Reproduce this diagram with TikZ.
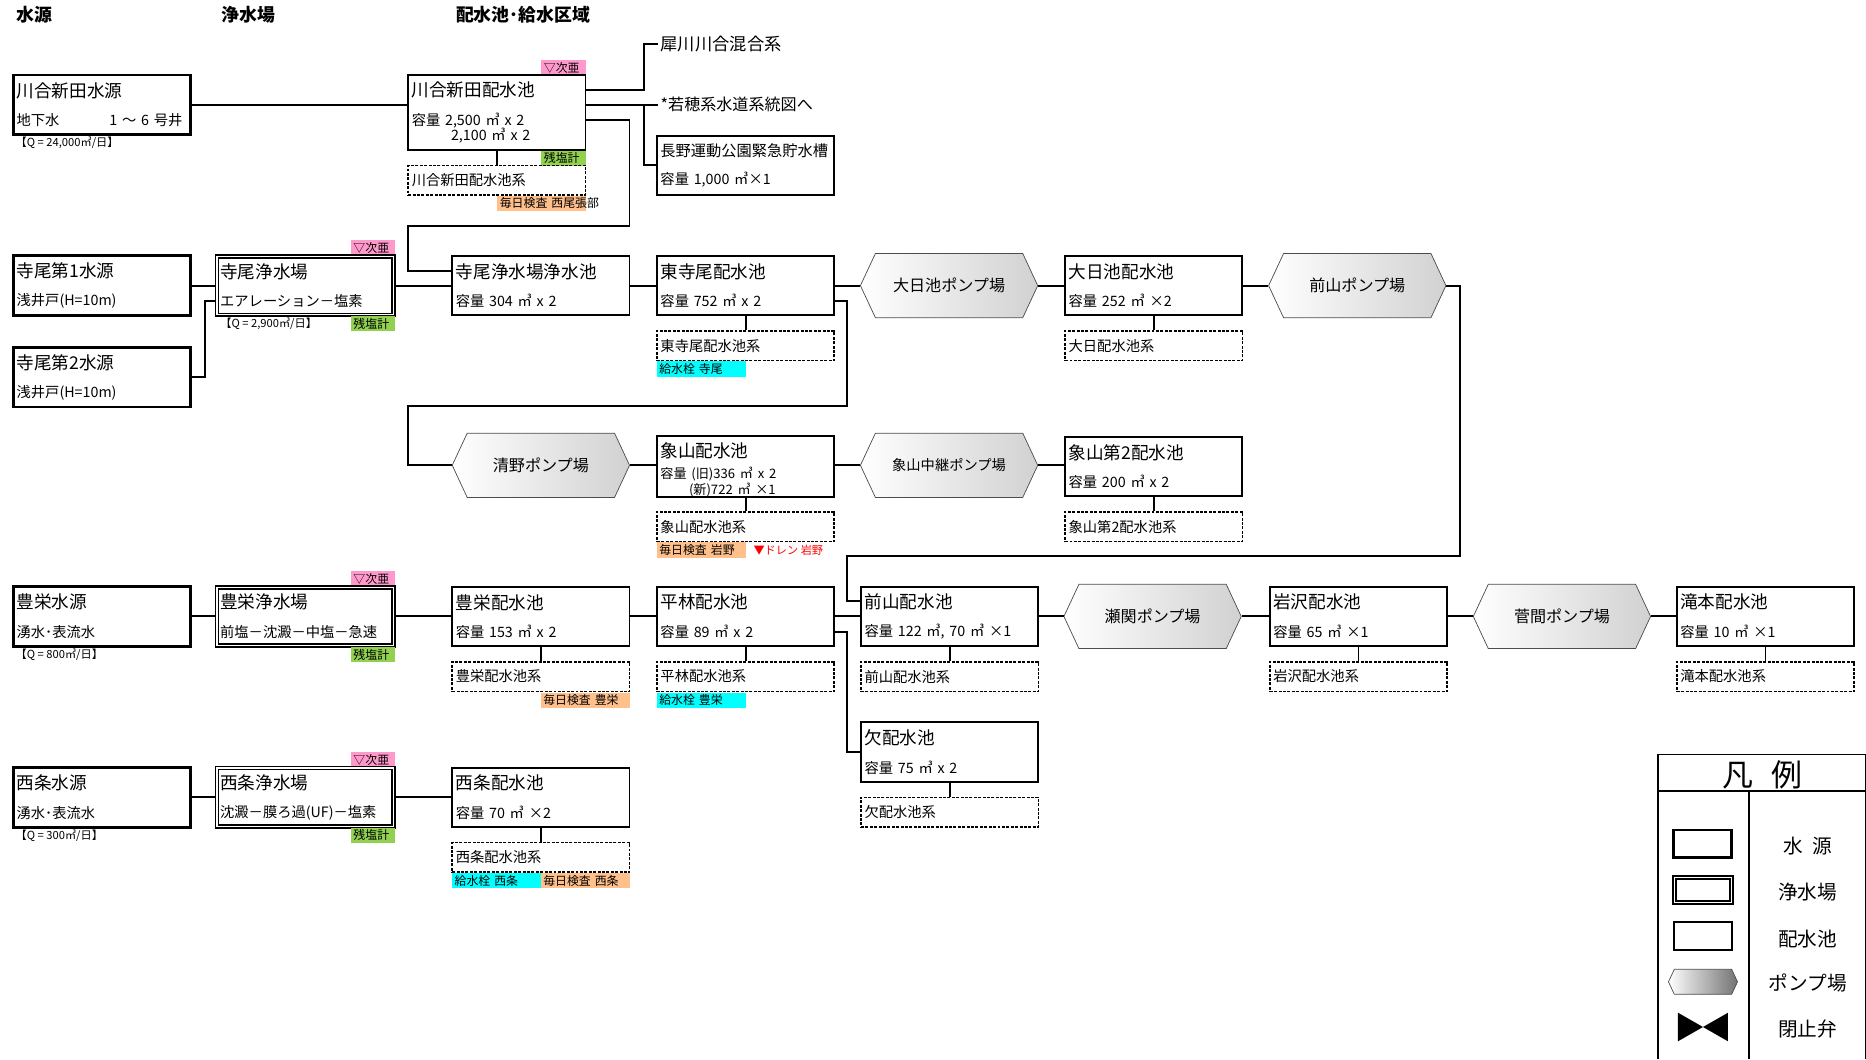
\documentclass[tikz,border=0pt]{standalone}
\usepackage{fontspec}
\setmainfont{Noto Sans CJK JP}
\usetikzlibrary{shapes.symbols}
\tikzset{>=latex}

\begin{document}
\begin{tikzpicture}[x=1pt,y=-1pt]
	\tikzstyle{source} = [draw=black, line width=2.4pt, minimum width=149pt, minimum height=50pt, inner sep=0pt, text width=143pt, align=left, font=\fontsize{12}{24}\selectfont]
	\tikzstyle{plant} = [draw=black, line width=1.3pt, double=white, double distance=1.2pt, minimum width=148pt, minimum height=49pt, inner sep=0pt, text width=143pt, align=left, font=\fontsize{12}{24}\selectfont]
	\tikzstyle{reservoir} = [draw=black, line width=1.6pt, minimum width=149pt, minimum height=50pt, inner sep=0pt, text width=143pt, align=left, font=\fontsize{12}{24}\selectfont]
	\tikzstyle{area} = [draw=black, line width=1.4pt, dash pattern=on 2.5pt off 1.2pt, minimum width=149pt, minimum height=25pt, inner sep=0pt, text width=143pt, align=left, font=\fontsize{12}{14}\selectfont]
	\tikzstyle{pump} = [signal, signal to=west and east, signal pointer angle=130, draw=black!70, line width=0.6pt, left color=white, right color=black!18, minimum width=149pt, minimum height=54pt, inner sep=0pt, font=\fontsize{13.5}{15}\selectfont]
	\tikzstyle{tag} = [minimum height=13pt, minimum width=75pt, inner sep=0pt, text width=71pt, align=left, font=\fontsize{10}{11}\selectfont]
	\tikzstyle{tag_short} = [tag, minimum width=37pt, text width=33pt]
	\tikzstyle{note} = [anchor=west, inner sep=0pt, font=\fontsize{9.4}{11}\selectfont]
	\tikzstyle{head} = [anchor=west, inner sep=0pt, font=\fontsize{15}{17}\selectfont\bfseries]
	\tikzstyle{lead} = [anchor=west, inner xsep=2pt, inner ysep=0pt, font=\fontsize{14.5}{16}\selectfont]
	\tikzstyle{pipe} = [line width=1.6pt]
	\tikzstyle{legend_text} = [inner sep=0pt, font=\fontsize{16.5}{18}\selectfont]
	\newcommand{\boxname}[1]{{\fontsize{14.8}{16}\selectfont #1}}
	\definecolor{tagpink}{RGB}{255,153,204}
	\definecolor{taggreen}{RGB}{146,208,80}
	\definecolor{tagorange}{RGB}{255,192,140}
	\definecolor{tagcyan}{RGB}{0,255,255}

	\useasboundingbox (0,0) rectangle (1568,890);

%----------見出し------------------------------
	\node[head] (h1) at (14,12) {水源};
	\node[head] (h2) at (186,12) {浄水場};
	\node[head] (h3) at (383,12) {配水池･給水区域};

%----------川合新田------------------------------
	\node[source] (src_kawai) at (85.5,88) {\boxname{川合新田水源}\\地下水\hspace{42pt}1 ～ 6 号井};
	\node[note] (q_kawai) at (13,120) {【Q = 24,000㎥/日】};

	\node[tag_short, fill=tagpink] (tag_k1) at (473.5,57) {▽次亜};
	\node[reservoir, minimum height=63pt] (res_kawai) at (417.5,94.5) {\boxname{川合新田配水池}\\容量  2,500 ㎥ x 2\\[-11pt]\hspace{33pt}2,100 ㎥ x 2};
	\node[tag_short, fill=taggreen] (tag_k2) at (473.5,133) {残塩計};
	\node[area] (sys_kawai) at (417.5,151.5) {川合新田配水池系};
	\node[tag, minimum width=74pt, text width=70pt, fill=tagorange] (tag_k3) at (455,171) {\rlap{毎日検査 西尾張部}};
	\draw[pipe] (res_kawai.south) -- (sys_kawai.north);
	\draw[pipe] (src_kawai.east) -- (src_kawai.east -| res_kawai.west);

	\node[lead] (lbl_sai) at (553,37) {犀川川合混合系};
	\node[lead, font=\fontsize{13.5}{16}\selectfont] (lbl_waka) at (553,88) {*若穂系水道系統図へ};
	\node[reservoir] (res_nagano) at (626.5,139) {{\fontsize{12.8}{16}\selectfont 長野運動公園緊急貯水槽}\\容量 1,000 ㎥×1};
	\coordinate (j_sai) at (541,76);
	\coordinate (j_waka) at (541,88);
	\draw[pipe] ([yshift=18.5pt]res_kawai.east) -- (j_sai) |- (lbl_sai.west);
	\draw[pipe] ([yshift=6.5pt]res_kawai.east) -- (lbl_waka.west);
	\draw[pipe] (j_waka) |- (res_nagano.west);

%----------寺尾------------------------------
	\node[source] (src_terao1) at (85.5,240) {\boxname{寺尾第1水源}\\浅井戸(H=10m)};
	\node[source] (src_terao2) at (85.5,317) {\boxname{寺尾第2水源}\\浅井戸(H=10m)};
	\node[tag_short, fill=tagpink] (tag_t1) at (313.5,208.5) {▽次亜};
	\node[plant] (wtp_terao) at (256.5,240) {\boxname{寺尾浄水場}\\エアレーション－塩素};
	\node[tag_short, fill=taggreen] (tag_t2) at (313.5,272) {残塩計};
	\node[note] (q_terao) at (185,272) {【Q = 2,900㎥/日】};
	\node[reservoir] (res_jo) at (454.5,240) {\boxname{寺尾浄水場浄水池}\\容量 304 ㎥ x 2};
	\node[reservoir] (res_higashi) at (626.5,240) {\boxname{東寺尾配水池}\\容量 752 ㎥ x 2};
	\node[area] (sys_higashi) at (626.5,290.5) {東寺尾配水池系};
	\node[tag, fill=tagcyan] (tag_h1) at (589.5,310) {給水栓 寺尾};
	\node[pump] (pump_dainichi) at (797.5,240) {大日池ポンプ場};
	\node[reservoir] (res_dainichi) at (969.5,240) {\boxname{大日池配水池}\\容量 252 ㎥ ×2};
	\node[area] (sys_dainichi) at (969.5,290.5) {大日配水池系};
	\node[pump] (pump_maeyama) at (1140.5,240) {前山ポンプ場};

	\coordinate (j_terao) at (172,253);
	\coordinate (j_k1) at (529,190);
	\coordinate (j_k2) at (343,190);
	\draw[pipe] (src_terao1.east) -- (wtp_terao.west);
	\draw[pipe] (src_terao2.east) -| (j_terao) -- ([yshift=-13pt]wtp_terao.west);
	\draw[pipe] ([yshift=-6.5pt]res_kawai.east) -| (j_k1) -- (j_k2) |- ([yshift=12pt]res_jo.west);
	\draw[pipe] (wtp_terao.east) -- (res_jo.west);
	\draw[pipe] (res_jo.east) -- (res_higashi.west);
	\draw[pipe] (res_higashi.east) -- (pump_dainichi.west);
	\draw[pipe] (pump_dainichi.east) -- (res_dainichi.west);
	\draw[pipe] (res_dainichi.east) -- (pump_maeyama.west);
	\draw[pipe] (res_higashi.south) -- (sys_higashi.north);
	\draw[pipe] (res_dainichi.south) -- (sys_dainichi.north);

%----------象山------------------------------
	\node[pump] (pump_kiyono) at (454.5,391) {清野ポンプ場};
	\node[reservoir] (res_zou) at (626.5,392) {\rule{0pt}{18pt}\boxname{象山配水池}\\[-6pt]{\fontsize{11}{13}\selectfont 容量 (旧)336 ㎥ x 2}\\[-11pt]\hspace{24pt}{\fontsize{11}{13}\selectfont (新)722 ㎥ ×1}};
	\node[area] (sys_zou) at (626.5,442.5) {象山配水池系};
	\node[tag, fill=tagorange] (tag_z1) at (589.5,462) {毎日検査 岩野};
	\node[note, text=red] (tag_z2) at (633,462) {▼ドレン 岩野};
	\node[pump, font=\fontsize{12}{15}\selectfont] (pump_chukei) at (797.5,391) {象山中継ポンプ場};
	\node[reservoir] (res_zou2) at (969.5,392) {\boxname{象山第2配水池}\\容量 200 ㎥ x 2};
	\node[area] (sys_zou2) at (969.5,442.5) {象山第2配水池系};

	\coordinate (j_h1) at (712,341);
	\coordinate (j_h2) at (343,341);
	\draw[pipe] ([yshift=-13pt]res_higashi.east) -| (j_h1) -- (j_h2) |- (pump_kiyono.west);
	\draw[pipe] (pump_kiyono.east) -- (pump_kiyono.east -| res_zou.west);
	\draw[pipe] (res_zou.east |- pump_chukei.west) -- (pump_chukei.west);
	\draw[pipe] (pump_chukei.east) -- (pump_chukei.east -| res_zou2.west);
	\draw[pipe] (res_zou.south) -- (sys_zou.north);
	\draw[pipe] (res_zou2.south) -- (sys_zou2.north);

%----------豊栄------------------------------
	\node[source] (src_toyo) at (85.5,518) {\boxname{豊栄水源}\\湧水･表流水};
	\node[note] (q_toyo) at (13,550) {【Q = 800㎥/日】};
	\node[tag_short, fill=tagpink] (tag_y1) at (313.5,486.5) {▽次亜};
	\node[plant] (wtp_toyo) at (256.5,518) {\boxname{豊栄浄水場}\\前塩－沈澱－中塩－急速};
	\node[tag_short, fill=taggreen] (tag_y2) at (313.5,550) {残塩計};
	\node[reservoir] (res_toyo) at (454.5,518) {\boxname{豊栄配水池}\\容量 153 ㎥ x 2};
	\node[area] (sys_toyo) at (454.5,568.5) {豊栄配水池系};
	\node[tag, fill=tagorange] (tag_y3) at (492,588.5) {毎日検査 豊栄};
	\node[reservoir] (res_hira) at (626.5,518) {\boxname{平林配水池}\\容量 89 ㎥ x 2};
	\node[area] (sys_hira) at (626.5,568.5) {平林配水池系};
	\node[tag, fill=tagcyan] (tag_y4) at (589.5,588.5) {給水栓 豊栄};
	\node[reservoir] (res_maeyama) at (798,518) {\boxname{前山配水池}\\容量 122 ㎥, 70 ㎥ ×1};
	\node[area] (sys_maeyama) at (798,568.5) {前山配水池系};
	\node[pump] (pump_seki) at (968.5,518) {瀬関ポンプ場};
	\node[reservoir] (res_iwa) at (1141.5,518) {\boxname{岩沢配水池}\\容量 65 ㎥ ×1};
	\node[area] (sys_iwa) at (1141.5,568.5) {岩沢配水池系};
	\node[pump] (pump_suga) at (1312.5,518) {菅間ポンプ場};
	\node[reservoir] (res_taki) at (1483.5,518) {\boxname{滝本配水池}\\容量 10 ㎥ ×1};
	\node[area] (sys_taki) at (1483.5,568.5) {滝本配水池系};
	\node[reservoir] (res_kake) at (798,632) {\boxname{欠配水池}\\容量 75 ㎥ x 2};
	\node[area] (sys_kake) at (798,682.5) {欠配水池系};

	\coordinate (j_m1) at (1227,467);
	\coordinate (j_m2) at (712,467);
	\coordinate (j_hira) at (712,531);
	\draw[pipe] (pump_maeyama.east) -| (j_m1) -- (j_m2) |- ([yshift=13pt]res_maeyama.west);
	\draw[pipe] ([yshift=-13pt]res_hira.east) -- (j_hira) |- (res_kake.west);
	\draw[pipe] (src_toyo.east) -- (wtp_toyo.west);
	\draw[pipe] (wtp_toyo.east) -- (res_toyo.west);
	\draw[pipe] (res_toyo.east) -- (res_hira.west);
	\draw[pipe] (res_hira.east) -- (res_maeyama.west);
	\draw[pipe] (res_maeyama.east) -- (pump_seki.west);
	\draw[pipe] (pump_seki.east) -- (res_iwa.west);
	\draw[pipe] (res_iwa.east) -- (pump_suga.west);
	\draw[pipe] (pump_suga.east) -- (res_taki.west);
	\draw[pipe] (res_toyo.south) -- (sys_toyo.north);
	\draw[pipe] (res_hira.south) -- (sys_hira.north);
	\draw[pipe] (res_maeyama.south) -- (sys_maeyama.north);
	\draw[pipe] (res_iwa.south) -- (sys_iwa.north);
	\draw[pipe] (res_taki.south) -- (sys_taki.north);
	\draw[pipe] (res_kake.south) -- (sys_kake.north);

%----------西条------------------------------
	\node[source] (src_nishi) at (85.5,670) {\boxname{西条水源}\\湧水･表流水};
	\node[note] (q_nishi) at (13,702) {【Q = 300㎥/日】};
	\node[tag_short, fill=tagpink] (tag_n1) at (313.5,638.5) {▽次亜};
	\node[plant] (wtp_nishi) at (256.5,670) {\boxname{西条浄水場}\\沈澱－膜ろ過(UF)－塩素};
	\node[tag_short, fill=taggreen] (tag_n2) at (313.5,702) {残塩計};
	\node[reservoir] (res_nishi) at (454.5,670) {\boxname{西条配水池}\\容量 70 ㎥ ×2};
	\node[area] (sys_nishi) at (454.5,720.5) {西条配水池系};
	\node[tag, fill=tagcyan] (tag_n3) at (417.5,740) {給水栓 西条};
	\node[tag, fill=tagorange] (tag_n4) at (492,740) {毎日検査 西条};

	\draw[pipe] (src_nishi.east) -- (wtp_nishi.west);
	\draw[pipe] (wtp_nishi.east) -- (res_nishi.west);
	\draw[pipe] (res_nishi.south) -- (sys_nishi.north);

%----------凡例------------------------------
	\draw[pipe] (1393,890) -- (1393,634) -- (1568,634) -- (1568,890);
	\draw[pipe] (1393,665) -- (1568,665);
	\draw[pipe] (1470,665) -- (1470,890);
	\node[inner sep=0pt, font=\fontsize{26}{28}\selectfont] (lg_title) at (1481,651) {凡\hspace{15pt}例};

	\node[source, minimum width=49pt, minimum height=23pt, text width=40pt] (lg_src) at (1430.5,709) {};
	\node[plant, minimum width=48pt, minimum height=21pt, text width=40pt] (lg_wtp) at (1431,748) {};
	\node[reservoir, minimum width=49pt, minimum height=23pt, text width=40pt] (lg_res) at (1431,786.5) {};
	\node[pump, minimum width=58pt, minimum height=21pt, right color=black!55] (lg_pump) at (1431,825) {};
	\fill[black] (1410,851) -- (1431,863) -- (1410,875) -- cycle;
	\fill[black] (1452,851) -- (1431,863) -- (1452,875) -- cycle;

	\node[legend_text] (lt1) at (1519,711) {水\hspace{8pt}源};
	\node[legend_text] (lt2) at (1519,750) {浄水場};
	\node[legend_text] (lt3) at (1519,789) {配水池};
	\node[legend_text] (lt4) at (1519,826) {ポンプ場};
	\node[legend_text] (lt5) at (1519,865) {閉止弁};

\end{tikzpicture}
\end{document}
